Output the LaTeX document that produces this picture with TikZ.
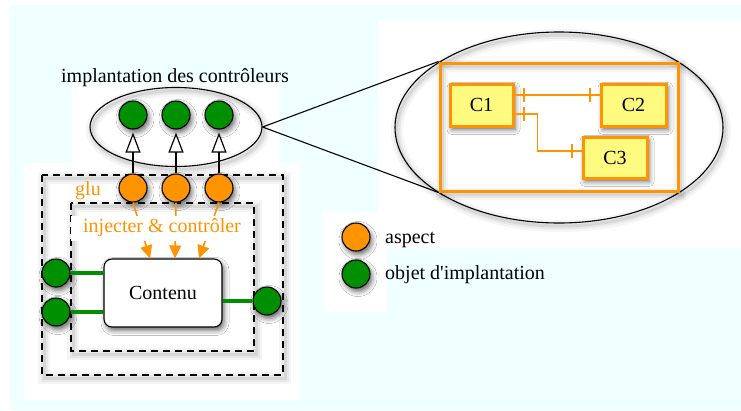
\documentclass[tikz,border=0pt]{standalone}
\usepackage{fontspec}
\setmainfont{Liberation Serif}[Ligatures=TeXOff]
\usetikzlibrary{arrows.meta,shapes.geometric,shadows.blur,decorations.markings,calc}

\definecolor{bgcyan}{RGB}{240,255,255}
\definecolor{aorange}{RGB}{255,147,0}
\definecolor{igreen}{RGB}{0,143,0}
\definecolor{cyellow}{RGB}{255,250,128}

\begin{document}
\begin{tikzpicture}[x=1pt,y=-1pt,
  lbl/.style={font=\fontsize{20}{24}\selectfont, inner sep=0pt},
  softshadow/.style={blur shadow={shadow xshift=2pt, shadow yshift=-3.5pt,
      shadow blur radius=5pt, shadow opacity=60}},
  ringshadow/.style={
    preaction={draw=black, draw opacity=0.04, line width=12pt,
      transform canvas={shift={(2pt,-3pt)}}},
    preaction={draw=black, draw opacity=0.05, line width=7pt,
      transform canvas={shift={(2pt,-3pt)}}},
    preaction={draw=black, draw opacity=0.07, line width=3pt,
      transform canvas={shift={(2pt,-3pt)}}}},
  dot/.style={circle, draw=black, line width=1.1pt, minimum size=28pt,
      inner sep=0pt, softshadow},
  aspectdot/.style={dot, fill=aorange},
  impldot/.style={dot, fill=igreen},
  dashbox/.style={draw=black, line width=1.2pt, dash pattern=on 7pt off 5pt,
      ringshadow},
  cbox/.style={draw=aorange, line width=3pt, fill=cyellow, lbl,
      minimum height=42pt, softshadow},
  weave/.style={-{Triangle[open, fill=white, length=20pt, width=15pt]},
      line width=1.2pt, shorten >=3pt},
  inject/.style={-{Triangle[length=13pt, width=12pt]}, draw=aorange,
      line width=1.6pt},
  gline/.style={draw=igreen, line width=4pt},
  conn/.style={draw=aorange, line width=1.8pt, postaction={decorate},
    decoration={markings,
      mark=at position 9pt with {\draw[aorange, line width=2pt] (0,-7pt) -- (0,7pt);},
      mark=at position -10pt with {\draw[aorange, line width=2pt] (0,-7pt) -- (0,7pt);}}}
]
\useasboundingbox (0,0) rectangle (741,410);

% page background
\fill[white] (0,0) rectangle (741,410);
\fill[bgcyan] (10,5) rectangle (741,410);
\fill[white] (72,82) rectangle (279,165);
\fill[white] (24,163) rectangle (300,400);
\fill[white] (378,20) rectangle (741,248);
\fill[white] (323,212) rectangle (387,312);

% component with its glue layers
\draw[dashbox] (42,175) rectangle (283,375);
\draw[dashbox] (71,203) rectangle (254,351);

\node[draw=black, line width=1.1pt, fill=white, rounded corners=8pt,
      minimum width=118pt, minimum height=68pt, lbl, softshadow]
      (contenu) at (163,293) {Contenu};

\node[lbl, text=aorange, anchor=base west] (glu) at (75,195) {glu};

% aspects
\node[aspectdot] (a1) at (133,188) {};
\node[aspectdot] (a2) at (176,188) {};
\node[aspectdot] (a3) at (219,188) {};

% injection arrows, partly covered by their label
\draw[inject] (a1.south) -- ([xshift=-13pt]contenu.north);
\draw[inject] (a2.south) -- ([xshift=12pt]contenu.north);
\draw[inject] (a3.south) -- ([xshift=36pt]contenu.north);
\node[lbl, fill=white, text=aorange, minimum width=182pt, minimum height=25pt]
      (inj) at (162,228) {injecter \& contrôler};

% implementation objects on the component
\node[impldot] (l1) at (56,273) {};
\node[impldot] (l2) at (56,312) {};
\node[impldot] (r1) at (267,301) {};
\draw[gline] (l1.east) -- (l1 -| contenu.west);
\draw[gline] (l2.east) -- (l2 -| contenu.west);
\draw[gline] (r1.west) -- (r1 -| contenu.east);

% controller implementation
\node[lbl, anchor=base] (title) at (175,82) {implantation des contrôleurs};
\node[ellipse, draw=black, line width=1.1pt, inner sep=0pt,
      minimum width=172pt, minimum height=79pt, ringshadow] (impl) at (176,127) {};
\node[impldot] (g1) at (133,115) {};
\node[impldot] (g2) at (176,115) {};
\node[impldot] (g3) at (219,115) {};
\draw[weave] (a1.north) -- (g1.south);
\draw[weave] (a2.north) -- (g2.south);
\draw[weave] (a3.north) -- (g3.south);

% zoomed view of the controllers
\node[ellipse, draw=black, line width=1.1pt, inner sep=0pt,
      minimum width=328pt, minimum height=191pt, ringshadow] (zoom) at (559,127.5) {};
\node[draw=aorange, line width=3pt, minimum width=238pt, minimum height=128pt,
      ringshadow] (frame) at (559,127) {};
\draw[line width=1.1pt] (impl.east) -- (frame.north west);
\draw[line width=1.1pt] (impl.east) -- (frame.south west);

\node[cbox, minimum width=63pt] (c1) at (481.5,105) {C1};
\node[cbox, minimum width=65pt] (c2) at (633.5,105) {C2};
\node[cbox, minimum width=64pt, minimum height=41pt] (c3) at (615,157.5) {C3};
\draw[conn] ([yshift=10pt]c1.east) -- ([yshift=10pt]c1.east -| c2.west);
\draw[conn] ([yshift=-9pt]c1.east) -- ++(23,0) |- ([yshift=6.5pt]c3.west);

% legend
\node[aspectdot] (la) at (356,237) {};
\node[impldot] (lg) at (356,274) {};
\node[lbl, anchor=base west] (lat) at (385,243) {aspect};
\node[lbl, anchor=base west] (lgt) at (385,279) {objet d'implantation};
\end{tikzpicture}
\end{document}
